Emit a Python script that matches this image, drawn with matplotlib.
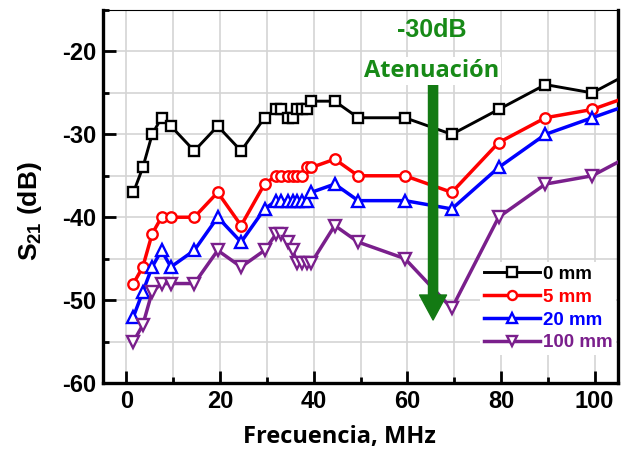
import matplotlib
matplotlib.use("Agg")
import matplotlib.pyplot as plt
from matplotlib.ticker import MultipleLocator

plt.rcParams["font.family"] = ["Liberation Sans", "DejaVu Sans"]
plt.rcParams["font.weight"] = "bold"
plt.rcParams["axes.unicode_minus"] = False
plt.rcParams["mathtext.fontset"] = "custom"
plt.rcParams["mathtext.rm"] = "Liberation Sans:bold"
plt.rcParams["mathtext.it"] = "Liberation Sans:bold"
plt.rcParams["mathtext.bf"] = "Liberation Sans:bold"

# frequency points (MHz)
freq = [1.5, 3.5, 5.5, 7.5, 9.5, 14.5, 19.5, 24.5, 29.5, 32, 33, 34.5, 35.5,
        36.5, 37.5, 38.5, 39.5, 44.5, 49.5, 59.5, 69.5, 79.5, 89.5, 99.5, 109.5]

s21_0mm = [-37, -34, -30, -28, -29, -32, -29, -32, -28, -27, -27, -28, -28,
           -27, -27, -27, -26, -26, -28, -28, -30, -27, -24, -25, -22]
s21_5mm = [-48, -46, -42, -40, -40, -40, -37, -41, -36, -35, -35, -35, -35,
           -35, -35, -34, -34, -33, -35, -35, -37, -31, -28, -27, -25]
s21_20mm = [-52, -49, -46, -44, -46, -44, -40, -43, -39, -38, -38, -38, -38,
            -38, -38, -38, -37, -36, -38, -38, -39, -34, -30, -28, -26]
s21_100mm = [-55, -53, -49, -48, -48, -48, -44, -46, -44, -42, -42, -43, -44,
             -45.5, -45.5, -45.5, -45.5, -41, -43, -45, -51, -40, -36, -35, -32]

labels = ["0 mm", "5 mm", "20 mm", "100 mm"]
colors = ["black", "#ff0000", "#0000ff", "#7a1f8c"]
markers = ["s", "o", "^", "v"]
sizes = [6.5, 7.5, 9, 9]

green = "#178a17"

fig = plt.figure(figsize=(6.21, 4.62), dpi=100)
ax = fig.add_axes([103 / 621, 79 / 462, 515 / 621, 373 / 462])

series = [s21_0mm, s21_5mm, s21_20mm, s21_100mm]
for vals, lab, c, m, ms in zip(series, labels, colors, markers, sizes):
    ax.plot(freq, vals, color=c, marker=m, ms=ms, mfc="white", mec=c, mew=1.7,
            lw=2.5 if c != "black" else 2.1, label=lab, zorder=3)

ax.set_xlim(-5, 105)
ax.set_ylim(-60, -15)
ax.xaxis.set_major_locator(MultipleLocator(20))
ax.xaxis.set_minor_locator(MultipleLocator(10))
ax.yaxis.set_major_locator(MultipleLocator(10))
ax.yaxis.set_minor_locator(MultipleLocator(5))
ax.grid(True, which="both", color="#d4d4d4", lw=1.2, zorder=0)
ax.set_axisbelow(True)

ax.tick_params(which="major", direction="in", length=9, width=2, labelsize=17, pad=5)
ax.tick_params(which="minor", direction="in", length=4, width=2)
ax.tick_params(top=False, right=False, which="both")
for lbl in ax.get_xticklabels() + ax.get_yticklabels():
    lbl.set_fontweight("bold")

for side in ["left", "bottom", "right"]:
    ax.spines[side].set_linewidth(2.4)
ax.spines["top"].set_linewidth(0.8)

ax.set_ylabel("$S_{21}$ (dB)", fontsize=19, fontweight="bold")
ax.yaxis.set_label_coords(-0.142, 0.46)
ax.yaxis.label.set_va("center")
ax.set_xlabel("Frecuencia, MHz", fontsize=17, fontweight="bold",
              family=["Open Sans", "DejaVu Sans"])
ax.xaxis.set_label_coords(0.46, -0.145)
ax.xaxis.label.set_va("center")

# attenuation arrow
ax.annotate("", xy=(65.5, -52.4), xytext=(65.5, -24.0),
            arrowprops=dict(arrowstyle="simple,head_length=0.9,head_width=0.97,tail_width=0.33",
                            mutation_scale=20, color="#137a13", shrinkA=0, shrinkB=0),
            zorder=4)
ax.text(65.2, -17.4, "-30dB", color=green, fontsize=18, fontweight="bold",
        ha="center", va="center", zorder=5)
ax.text(65.2, -22.4, "Atenuación", color=green, fontsize=17, fontweight="bold",
        family=["Open Sans", "DejaVu Sans"], ha="center", va="center", zorder=5,
        bbox=dict(facecolor="white", edgecolor="none", pad=1.5))

leg = ax.legend(loc="lower right", bbox_to_anchor=(1.0, 0.07), frameon=True,
                facecolor="white", edgecolor="none", framealpha=1, fancybox=False,
                fontsize=13.5, handlelength=3.0, handletextpad=0.15,
                labelspacing=0.3, borderpad=0.2, borderaxespad=0.1)
for txt, c in zip(leg.get_texts(), colors):
    txt.set_color(c)
    txt.set_fontweight("bold")
for h in leg.legend_handles:
    h.set_markersize(6.5)

fig.savefig("out.png", dpi=100)
